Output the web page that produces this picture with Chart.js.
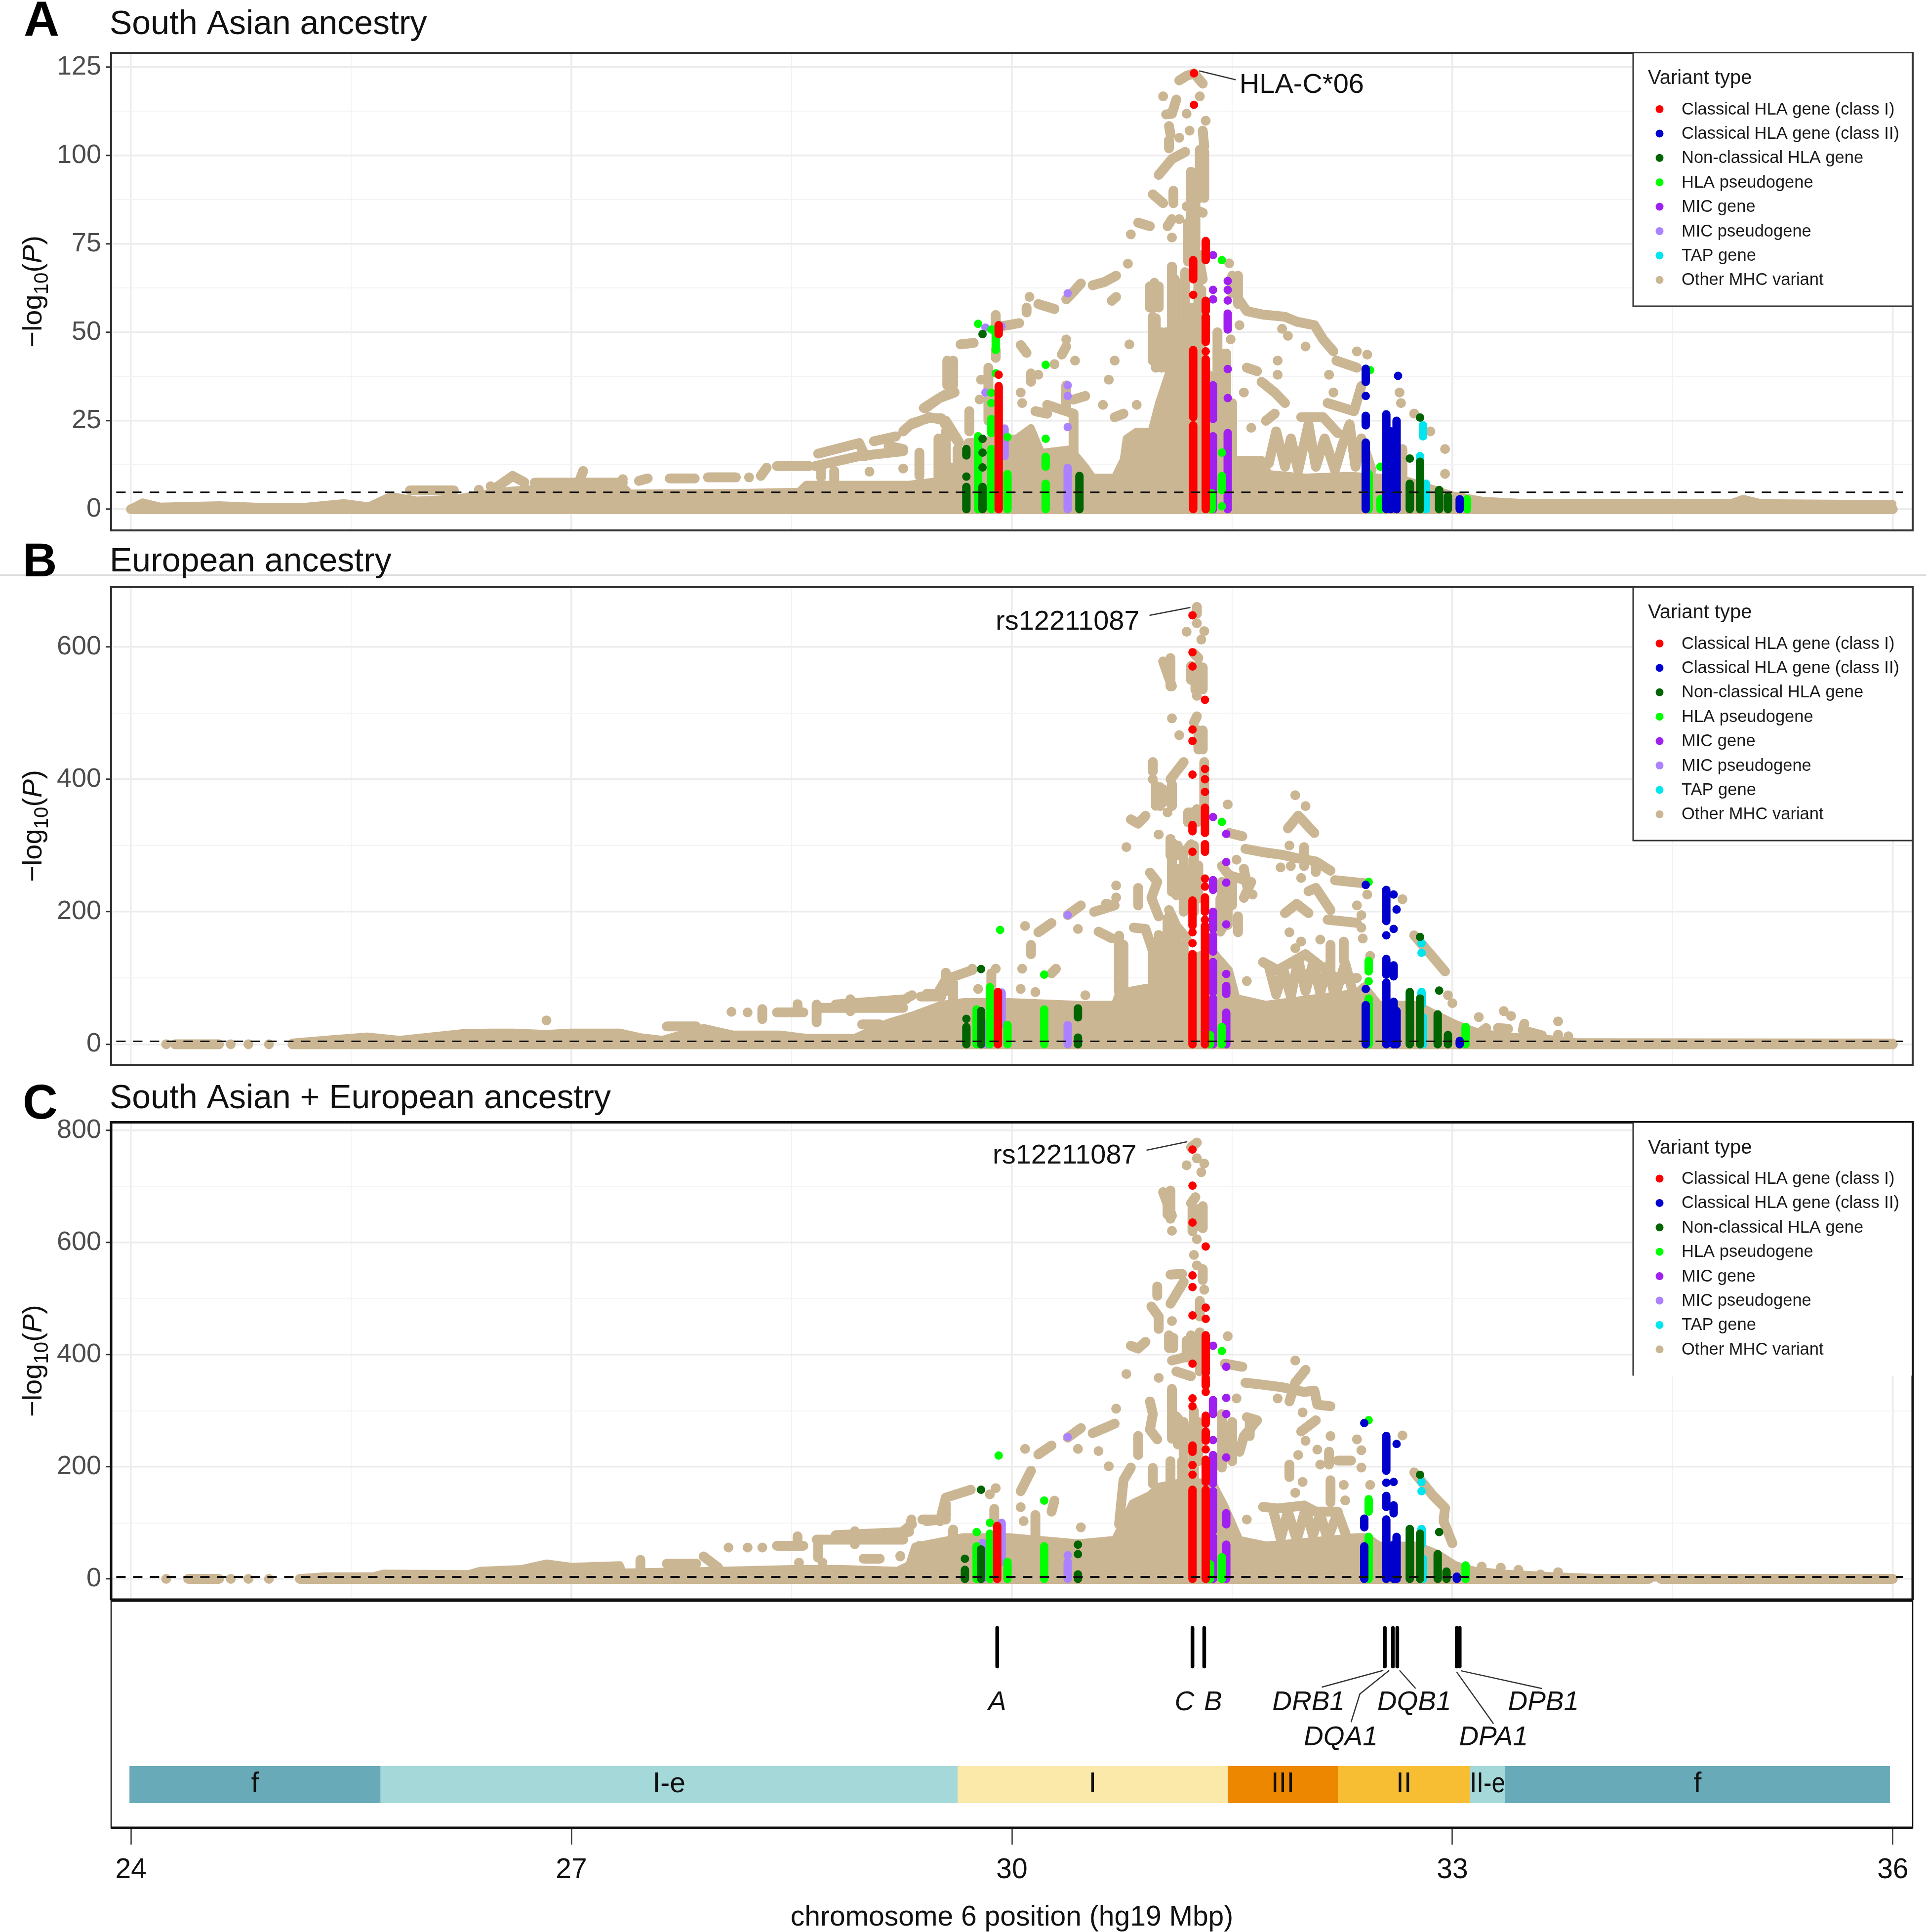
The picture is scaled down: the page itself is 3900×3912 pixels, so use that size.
<!DOCTYPE html>
<html>
<head>
<meta charset="utf-8">
<title>MHC association plots</title>
<script src="https://cdn.jsdelivr.net/npm/chart.js@4/dist/chart.umd.min.js"></script>
<style>
  html, body { margin: 0; padding: 0; background: #fff; }
  body { position: relative; width: 3900px; height: 3912px; overflow: hidden; }
  canvas { position: absolute; left: 0; }
  #rule { position: absolute; left: 0; top: 1163px; width: 3900px; height: 3px; background: #dcdcdc; }
</style>
</head>
<body>
<div id="rule"></div>
<canvas id="panel-a" width="3900" height="1090" style="top:0"></canvas>
<canvas id="panel-b" width="3900" height="1090" style="top:1090px"></canvas>
<canvas id="panel-c" width="3900" height="1060" style="top:2180px"></canvas>
<canvas id="panel-genes" width="3900" height="672" style="top:3240px"></canvas>
<script>
// All values: position in Mbp, -log10(P).
// null breaks a run; a pair between two nulls is one lone variant.
const xMajor = [24, 27, 30, 33, 36];
const xMinor = [25.5, 28.5, 31.5, 34.5];

const legendTitle = "Variant type";
const legendLabels = ["Classical HLA gene (class I)", "Classical HLA gene (class II)", "Non-classical HLA gene", "HLA pseudogene", "MIC gene", "MIC pseudogene", "TAP gene", "Other MHC variant"];

// Panel A
const aYMajor = [0, 25, 50, 75, 100, 125];
const aYMinor = [12.5, 37.5, 62.5, 87.5, 112.5];
const aThreshold = [[23.9, 4.8], [36.07, 4.8]];
const aLeader = [[31.276, 123.9], [31.524, 121.4]];
const aClassI = [[29.91, 0], [29.91, 34.8], null, [29.91, 38], null, [29.91, 49.5], [29.91, 52], null,
  [31.235, 0], [31.235, 23.7], null, [31.235, 26], [31.235, 40], null, [31.235, 40], [31.235, 45], null, [31.235, 60.6], null, [31.235, 65], [31.235, 70.4], null, [31.24, 114.3], null, [31.24, 123.2], null,
  [31.32, 0], [31.32, 42.4], null, [31.32, 44.6], null, [31.32, 47.3], [31.32, 54.4], null, [31.32, 56], [31.32, 58.9], null, [31.32, 70.4], [31.32, 75.8]];
const aClassII = [[32.41, 0], [32.41, 18.8], null, [32.41, 23.7], [32.41, 26.4], null, [32.41, 32], null, [32.41, 36], [32.41, 39.7], null,
  [32.55, 0], [32.55, 26.8], null, [32.58, 0], [32.58, 22], null, [32.62, 0], [32.62, 25], null, [32.63, 37.7], null, [33.05, 0], [33.05, 2.8]];
const aNonClassical = [[29.69, 0], [29.69, 6.3], null, [29.69, 9.2], null, [29.69, 15.2], [29.69, 17], null,
  [29.8, 0], [29.8, 6.3], null, [29.8, 11.8], null, [29.8, 16], null, [29.8, 19.9], null, [29.8, 49.5], null,
  [30.46, 0], [30.46, 9.4], null, [32.71, 0], [32.71, 7.2], null, [32.71, 14.3], null, [32.78, 0], [32.78, 13.4], null, [32.78, 25.9], null,
  [32.91, 0], [32.91, 5.4], null, [32.97, 0], [32.97, 3.6]];
const aPseudogene = [[29.77, 0], [29.77, 20.6], null, [29.77, 52.4], null, [29.86, 0], [29.86, 17], null, [29.86, 21.5], [29.86, 25.5], null, [29.86, 30], null, [29.86, 32.9], null, [29.86, 50.8], null,
  [29.89, 38.4], null, [29.89, 45], [29.89, 50.8], null, [29.97, 0], [29.97, 9.9], null, [29.97, 20.4], null,
  [30.23, 0], [30.23, 7.2], null, [30.23, 12], [30.23, 14.8], null, [30.23, 19.9], null, [30.23, 40.8], null,
  [31.36, 0], [31.36, 4.5], null, [31.43, 0.8], null, [31.43, 5.4], [31.43, 9.4], null, [31.43, 16], null, [31.43, 70.4], null,
  [32.43, 0], [32.43, 10], null, [32.44, 39.3], null, [32.51, 0], [32.51, 2.8], null, [32.51, 12], null, [33.1, 0], [33.1, 2.8]];
const aMic = [[31.37, 0], [31.37, 20.6], null, [31.37, 25.5], [31.37, 35], null, [31.37, 59.3], null, [31.37, 62], null, [31.37, 71.8], null,
  [31.47, 0], [31.47, 21.5], null, [31.47, 31.4], null, [31.47, 39.6], null, [31.47, 50.8], [31.47, 55.3], null, [31.47, 59], null, [31.47, 62], null, [31.47, 64.5]];
const aMicPseudogene = [[30.38, 0], [30.38, 11.7], null, [30.38, 23.2], null, [30.38, 32], null, [30.38, 35], null, [30.38, 61], null,
  [29.82, 33], null, [29.82, 51.3], null, [29.95, 15], [29.95, 22.8], null, [29.93, 51.7]];
const aTap = [[32.82, 0], [32.82, 7.2], null, [32.78, 8], [32.78, 15], null, [32.8, 20.6], [32.8, 23.7]];
const aOtherMass = [[24, 0.3], [24.08, 2], [24.2, 0.8], [24.6, 1.2], [24.9, 0.7], [25.2, 0.8], [25.45, 1.8], [25.62, 0.9], [25.77, 3.8], [25.95, 2.5], [26.2, 3], [26.5, 5], [26.95, 6.5], [27.35, 6.5], [27.4, 4.5], [28.2, 4.7], [28.55, 5], [28.6, 7], [29, 7], [29.3, 7], [29.5, 8], [29.65, 9], [29.7, 19], [29.95, 20], [30.03, 20], [30.13, 23], [30.2, 16], [30.4, 17], [30.5, 12], [30.55, 9], [30.7, 9], [30.76, 14], [30.78, 20], [30.85, 22], [30.95, 22], [31, 30], [31.08, 40], [31.2, 42], [31.35, 38], [31.45, 20], [31.5, 14], [31.7, 14], [31.75, 10], [32, 9], [32.3, 9.5], [32.5, 9], [32.7, 8], [32.85, 6], [33, 4], [33.2, 2.5], [33.5, 1.8], [34.9, 1.8], [34.98, 3], [35.1, 1.8], [36, 1.5]];
const aOtherRidges = [[24, 0], [36, 0], null,
  [25.9, 5.3], [26.2, 5.3], null, [26.37, 5.5], null, [26.45, 6.5], null, [26.49, 6.2], [26.6, 9.4], [26.68, 7.6], null, [26.75, 7.5], [27.35, 7.5], null, [27.08, 10.8], [27.05, 7.5], null, [27.35, 8.5], null,
  [27.46, 8], [27.52, 8.7], null, [27.67, 8.7], [27.84, 8.7], null, [27.93, 9], [28.12, 9], null, [28.21, 9], null, [28.29, 9.4], [28.33, 11.7], null, [28.4, 12.2], [28.62, 12.2], null,
  [28.66, 12.2], [28.96, 15], [29.26, 16.4], null, [28.68, 15.7], [28.96, 18.7], [29, 15], null, [29.06, 19.2], [29.21, 20.6], null, [29.26, 22], [29.32, 24.3], [29.43, 25.7], [29.52, 25.7], [29.54, 24.3], [29.64, 18.7], null,
  [29.41, 28.5], [29.52, 31.8], [29.6, 33.6], null, [29.56, 35], [29.56, 42], null, [29.6, 35], [29.6, 42], null, [28.7, 11], [28.7, 9], null, [28.79, 10.8], [28.79, 6], null, [29.03, 10.6], null, [29.26, 11.5], null, [29.37, 16], [29.37, 9.4], null, [29.52, 18.7], [29.52, 12.7], [29.6, 11.5], [29.6, 8], null,
  [29.16, 17.9], [29.26, 17], null, [29.37, 15], [29.37, 10.8], null, [29.55, 22], [29.55, 9], null, [29.63, 17], [29.63, 9], null,
  [31.14, 121.2], [31.19, 122.5], [31.24, 123.2], [31.3, 120.3], null, [31.03, 116.7], null, [31.12, 115.8], [31.09, 111.8], [31.05, 111.6], null, [31.19, 111.8], null, [31.28, 116.7], null, [31.32, 109.8], null, [31.07, 108.3], [31.08, 106], null, [31.21, 107], null, [31.14, 105], null, [31.07, 104.3], [31.07, 102], null, [31.3, 107], [31.31, 102.5], null,
  [31.18, 101], [31.09, 99], [31, 94.5], null, [31.28, 101.6], [31.28, 88], null, [31.31, 101], [31.31, 88], null, [31.22, 95.4], [31.22, 72], null, [31.25, 92], [31.25, 74], null, [31.3, 91], null, [30.96, 89], [31.03, 86.5], null, [31.1, 90], [31.1, 86.5], null, [31.19, 85.6], [31.3, 83.8], null,
  [30.86, 81], [30.94, 80], null, [30.81, 77.7], null, [31.09, 82], [31.06, 80], null, [31.14, 82], null, [31.2, 81], [31.2, 70], null, [31.27, 72], [31.3, 65], null, [31.09, 76.8], null, [30.79, 69.4], null, [30.71, 66], [30.63, 64.2], [30.55, 63.3], null, [30.47, 63.8], [30.42, 61.5], [30.37, 59.3], null, [30.71, 60], [30.68, 58.9], null,
  [30.29, 56.6], [30.18, 58], null, [30.12, 60], null, [30.1, 57], [30.1, 55.6], null, [30.05, 52.6], [29.93, 51.7], null, [29.89, 54.9], [29.89, 52], null, [30.37, 48], null, [30.8, 46.6], null, [30.06, 46.4], [30.1, 44.2], null, [30.34, 43.7], [30.37, 46], null, [30.43, 42], null, [30.29, 41], null, [30.7, 42], null,
  [29.74, 47], [29.65, 46.6], null, [29.89, 42.8], [29.89, 45], null, [29.61, 33], [29.5, 31.3], [29.4, 28.6], null, [30.13, 38.4], [30.13, 36], null, [30.18, 38], null, [30.06, 33], null, [30.07, 30], null, [30.37, 35], [30.37, 29], null, [30.5, 32], [30.42, 31], null, [30.62, 29.5], null, [30.66, 36.6], null, [30.85, 29.5], null,
  [30.24, 29.5], [30.42, 27], [30.42, 12], null, [30.16, 27.7], [30.24, 27], null, [30.7, 26], [30.76, 27], null, [29.78, 31], null, [29.71, 27.7], [29.71, 22], null, [29.79, 36.6], null, [29.84, 40], [29.84, 25], null, [29.89, 32], [29.89, 22], null,
  [29.32, 24], [29.44, 26], [29.55, 25], [29.64, 19], null, [29.5, 20], [29.5, 8], null,
  [30.94, 63], [30.94, 57], null, [30.97, 64], [30.97, 57], null, [31, 63], [31, 57], null, [30.96, 54.4], [30.96, 42], null, [30.98, 54], [30.98, 40], null, [31.02, 50], [31.02, 40], null, [31.09, 68.6], [31.09, 40], null, [31.11, 65], [31.11, 40], null, [31.18, 67], [31.18, 45], null, [31.22, 57], [31.22, 35], null, [31.15, 50], [31.15, 35], null, [31.05, 50], [31.05, 40], null, [31.27, 68], [31.27, 30], null, [31.29, 62], [31.29, 40], null,
  [31.4, 50], [31.4, 30], null, [31.43, 44], [31.43, 25], null, [31.46, 44], [31.46, 20], null, [31.5, 30], [31.5, 15], null, [31.5, 66], [31.5, 61], null, [31.54, 66], [31.54, 58], null, [31.48, 69.5], null, [31.55, 59], [31.6, 56], [31.71, 55], [31.86, 54.4], [31.94, 53], [32.06, 52], [32.12, 48], [32.19, 44.6], null, [31.55, 52], null, [31.49, 48], null, [31.41, 44], [31.41, 38], null,
  [31.88, 49], null, [31.84, 51], null, [32, 46], null, [32.21, 42], [32.35, 40], null, [32.35, 44.6], null, [32.42, 43.7], null, [32.16, 38], null, [31.81, 42], null, [31.81, 38], null, [31.6, 40], [31.67, 39], null, [31.7, 36], [31.79, 33], [31.86, 30], null, [31.58, 33], null, [32.19, 33], null, [32.64, 33], null, [32.65, 30], null,
  [32.15, 30], [32.33, 27.7], [32.38, 34.8], null, [31.97, 26], [32.12, 26], [32.22, 21.5], null, [31.73, 25], [31.79, 27], null, [31.63, 23], null, [31.75, 13], [31.8, 22], [31.86, 12], [31.9, 20], [31.95, 11], [32.02, 24], [32.07, 12], [32.13, 20], [32.2, 11], [32.25, 18], [32.3, 24], [32.34, 12], [32.38, 20], [32.45, 11], null, [32.74, 27], null, [32.85, 22], null, [32.95, 17], null, [32.95, 10], null, [32.66, 17], [32.66, 8]];

// Panel B
const bYMajor = [0, 200, 400, 600];
const bYMinor = [100, 300, 500];
const bThreshold = [[23.9, 4.5], [36.07, 4.5]];
const bLeader = [[30.937, 647.5], [31.216, 659.4]];
const bClassI = [[31.23, 0], [31.23, 136], null, [31.23, 152.5], null, [31.23, 169], null, [31.23, 179], [31.23, 217], null, [31.23, 290.5], null, [31.23, 321.5], [31.23, 331], null, [31.23, 407], null, [31.23, 458], null, [31.23, 475], null, [31.23, 570.4], null, [31.23, 591.8], null, [31.23, 647.5], null,
  [31.315, 0], [31.315, 179], null, [31.315, 188], null, [31.315, 200], [31.315, 221.5], null, [31.315, 238], null, [31.315, 250], null, [31.315, 290.5], [31.315, 302], null, [31.315, 319], [31.315, 357], null, [31.315, 381], null, [31.315, 400], null, [31.315, 415.7], null, [31.315, 520], null,
  [29.905, 0], [29.905, 78.7]];
const bClassII = [[32.41, 0], [32.41, 59], null, [32.41, 83.5], null, [32.41, 240.5], null, [32.55, 0], [32.55, 93], null, [32.55, 105], [32.55, 128.7], null, [32.55, 164.4], null, [32.55, 186], [32.55, 233], null,
  [32.6, 0], [32.6, 64], null, [32.6, 102.5], [32.6, 119], null, [32.6, 174], null, [32.62, 0], [32.62, 50], null, [32.62, 203.4], null, [32.6, 226], null, [33.05, 0], [33.05, 5]];
const bNonClassical = [[29.69, 0], [29.69, 26], null, [29.69, 38.3], null, [29.79, 0], [29.79, 50], null, [29.79, 113.4], null, [30.45, 0], [30.45, 10], null, [30.45, 40.6], [30.45, 54], null,
  [32.71, 0], [32.71, 78.7], null, [32.78, 0], [32.78, 69], null, [32.78, 162], null, [32.9, 0], [32.9, 45], null, [32.91, 81], null, [32.97, 0], [32.97, 14]];
const bPseudogene = [[29.76, 0], [29.76, 52.5], null, [29.85, 0], [29.85, 86], null, [29.97, 0], [29.97, 29], null, [29.92, 172.5], null, [30.22, 0], [30.22, 52.5], null, [30.22, 105], null,
  [31.35, 0], [31.35, 14], null, [31.43, 0], [31.43, 26], null, [31.43, 335.7], null, [32.43, 0], [32.43, 69], null, [32.43, 95], null, [32.43, 110], [32.43, 126], null, [32.43, 245], null, [33.09, 0], [33.09, 26]];
const bMic = [[31.37, 0], [31.37, 69], null, [31.37, 78.7], [31.37, 124], null, [31.37, 140], [31.37, 164], null, [31.37, 174], [31.37, 200], null, [31.37, 233], [31.37, 247.6], null, [31.37, 343], null,
  [31.46, 0], [31.46, 47.7], null, [31.46, 76], [31.46, 88], null, [31.46, 106], null, [31.46, 181], null, [31.46, 244], null, [31.46, 275], null, [31.46, 317.6]];
const bMicPseudogene = [[30.38, 0], [30.38, 29], null, [30.38, 195], null, [29.93, 31], [29.93, 78], null, [29.82, 0], [29.82, 31]];
const bTap = [[32.79, 138], null, [32.79, 152.5], null, [32.79, 59.7], [32.79, 78.7], null, [32.8, 0], [32.8, 40.6]];
const bOtherMass = [[25.1, 0], [25.1, 3], [25.37, 8], [25.61, 12], [25.83, 7], [26.25, 17], [26.45, 18], [26.6, 18], [26.83, 16], [27, 18], [27.33, 18], [27.47, 11], [27.62, 7], [27.9, 25], [28.1, 15], [28.42, 15], [28.6, 10], [28.93, 10], [29.16, 33], [29.34, 45], [29.52, 60], [29.67, 64], [29.98, 64], [30.45, 60], [30.7, 60], [30.73, 78], [30.9, 85], [30.96, 85], [31, 100], [31.1, 120], [31.2, 130], [31.37, 140], [31.48, 112], [31.53, 70], [31.73, 60], [32.35, 78], [32.4, 88], [32.5, 60], [32.76, 60], [32.89, 45], [33.02, 31], [33.15, 20], [33.35, 12], [33.63, 9], [33.85, 3.4], [36, 3]];
const bOtherRidges = [[24.24, 0], null, [24.3, 0], [24.6, 0], null, [24.68, 0], null, [24.8, 0], null, [24.94, 0], null, [25.1, 0], [36, 0], null,
  [26.83, 36], null, [27.65, 27], [27.85, 27], null, [28.09, 49], null, [28.2, 48], null, [28.3, 53], [28.3, 38], null, [28.4, 48], [28.58, 48], null, [28.54, 60.6], [28.54, 48], null, [28.67, 55], [29.26, 55], null, [28.67, 60], [28.67, 33], null, [28.9, 68], [28.9, 50], null, [28.8, 60], [29.28, 68], null, [29.3, 72], null, [29.38, 72], [29.52, 72], null, [29.55, 80], [29.55, 108], null, [29.6, 60], [29.6, 100], null, [28.98, 30], [29.1, 30], null, [29.37, 46], [29.37, 23], null, [29.55, 55], [29.66, 60], null, [29.73, 112], [29.55, 97.7], [29.5, 78.7], null,
  [31.26, 660.4], [31.26, 650], null, [31.26, 635.6], null, [31.19, 622.8], null, [31.31, 623.7], null, [31.29, 610.9], null, [31.24, 590], [31.27, 583], null, [31.08, 583], [31.08, 540.4], null, [31.03, 578], [31.09, 540.4], null, [31.22, 571], [31.22, 550], null, [31.25, 570], [31.25, 535], null, [31.28, 570], [31.28, 535], null, [31.3, 569], [31.3, 535.7], null, [31.27, 560], [31.27, 540], null, [31.26, 526], null, [31.09, 492], null, [31.26, 495], [31.24, 485.7], null, [31.14, 466.6], null, [31.3, 473.8], [31.3, 445], null, [31.27, 474], [31.27, 445], null,
  [30.96, 426], [30.96, 412], null, [31.17, 426], [31.08, 400], null, [30.96, 400], null, [31.01, 388], [31.01, 359.5], null, [30.98, 390], [30.98, 360], null, [31.03, 385], [31.03, 365], null, [31.09, 393], [31.09, 359.5], null, [31.31, 426], [31.31, 340], null, [31.47, 362], null, [31.06, 350], null, [31.22, 350], [31.27, 340], null, [31.2, 350], [31.2, 335], null, [31.26, 355], [31.26, 335], null, [30.81, 339.5], [30.86, 333], [30.91, 345], null, [31, 316.7], null, [30.78, 297.6], null,
  [31.09, 305], [31.17, 288], [31.22, 302], null, [31.08, 310], [31.08, 285], null, [31.13, 300], [31.13, 285], null, [31.09, 290], [31.09, 230], null, [31.12, 265], [31.12, 225], null, [31.18, 265], [31.18, 210], null, [31.27, 270], [31.27, 220], null, [31.17, 280], [31.17, 200], null, [31.24, 300], [31.24, 200], null, [31.48, 319], [31.57, 314], null, [31.59, 295], [31.71, 290], [31.84, 286], [31.94, 281], [32.07, 276], [32.17, 262], null,
  [31.93, 376], null, [32, 359.5], null, [31.95, 345], [31.88, 326], null, [31.95, 345], [32.06, 319], null, [31.89, 300], null, [31.99, 297.6], [31.99, 269], null, [31.83, 267], null, [31.9, 269], null, [32.07, 276], [32.07, 260], null, [32.2, 247.7], [32.4, 243], null, [31.97, 251], null, [32.02, 231], [32.07, 236], [32.17, 202.5], null, [32.35, 209.6], null, [32.42, 226], null, [31.86, 198], [31.94, 212], [32.02, 198], null,
  [32.38, 195], null, [32.15, 188], [32.35, 183.4], null, [32.38, 176], null, [32.39, 159.6], null, [32.44, 133.4], null, [32.66, 219], null, [31.89, 169], null, [31.97, 155], null, [32.1, 158], null, [31.93, 145], null, [32.74, 164.4], [32.87, 131], [32.95, 110], null, [32.97, 74], null, [33, 62], null, [32.26, 155], [32.26, 126], null, [32.17, 150], [32.17, 110], null,
  [31.71, 124], [31.81, 112], [32, 135.8], [32.22, 97.7], [32.35, 100], null, [31.6, 95.4], null, [31.75, 118], [31.8, 75], [31.85, 112], [31.9, 72], [31.95, 128], [32, 80], [32.05, 122], [32.1, 78], [32.15, 118], [32.2, 72], [32.27, 122], [32.32, 80], null,
  [31.43, 269], [31.48, 255], [31.63, 245], [31.58, 221], null, [31.43, 245], [31.43, 174], null, [31.42, 220], [31.42, 170], null, [31.47, 215], [31.47, 180], null, [31.54, 193], [31.54, 169], null, [31.53, 278.6], null, [31.64, 226], null, [31.5, 245], [31.5, 210], null, [31.58, 265], [31.6, 240], null,
  [30.94, 259], [30.99, 245], [30.95, 221], [31, 193], null, [30.86, 236], [30.86, 209.6], null, [30.71, 239.6], null, [30.71, 221.5], null, [30.64, 212], [30.7, 209.6], [30.56, 200], null, [30.47, 209.6], [30.38, 195], null, [30.27, 183], [30.18, 169], null, [30.09, 178.6], null, [30.45, 174], null, [30.13, 150], [30.13, 135.8], null, [30.07, 114], null,
  [30.59, 170], [30.68, 160], null, [30.73, 164], [30.73, 78.7], null, [30.76, 150], [30.76, 70], null, [30.83, 176], [30.91, 174], [30.96, 140.6], [30.96, 85], null, [31, 165], [31, 90], null, [31.06, 190], [31.06, 100], null, [31.12, 175], [31.12, 100], null, [31.17, 150], [31.17, 100], null, [31.07, 202.5], [31.12, 178.6], [31.19, 159.6], null,
  [30.27, 107], [30.3, 114], null, [30.06, 83.5], null, [30.16, 78.7], null, [30.5, 74], null, [29.89, 114], null, [29.73, 114], null, [29.86, 107], [29.86, 78.7], null, [29.77, 83.5], null, [29.32, 74], [29.21, 59.7], null, [29.42, 76], [29.51, 76], null, [29.25, 31], null,
  [33.18, 41], null, [33.35, 50], null, [33.4, 42.7], null, [33.49, 31], [33.48, 21], [33.61, 13.4], null, [33.72, 34.5], null, [33.72, 14.6], null, [33.79, 12], null, [33.23, 24.5], [33.18, 16], null, [33.31, 24.5], [33.38, 23.3], null];

// Panel C
const cYMajor = [0, 200, 400, 600, 800];
const cYMinor = [100, 300, 500, 700];
const cThreshold = [[23.9, 3.5], [36.07, 3.5]];
const cLeader = [[30.917, 764.8], [31.195, 780]];
const cClassI = [[31.23, 0], [31.23, 159], null, [31.23, 186], null, [31.23, 203], null, [31.23, 226.7], [31.23, 238], null, [31.23, 308], null, [31.23, 322], null, [31.23, 384], null, [31.23, 470], null, [31.23, 520.6], null, [31.23, 541.4], null, [31.23, 635.8], null, [31.23, 701.5], null, [31.23, 766], null,
  [31.32, 0], [31.32, 159], null, [31.32, 173], [31.32, 212.6], null, [31.32, 231], null, [31.32, 246.4], [31.32, 263], null, [31.32, 277], [31.32, 291], null, [31.32, 333.5], null, [31.32, 344.7], [31.32, 358.7], null, [31.32, 367], [31.32, 434.6], null, [31.32, 464], null, [31.32, 484], null, [31.32, 593], null,
  [29.9, 0], [29.9, 94.6]];
const cClassII = [[32.4, 0], [32.4, 58], null, [32.4, 92], [32.4, 107.6], null, [32.4, 278], null, [32.55, 0], [32.55, 106], null, [32.55, 128.4], [32.55, 148], null, [32.55, 171.6], null, [32.55, 193], [32.55, 255], null,
  [32.6, 0], [32.6, 61], null, [32.6, 117], [32.6, 131], null, [32.6, 173], null, [32.62, 240.7], null, [32.62, 0], [32.62, 75], null, [33.03, 0], [33.03, 4]];
const cNonClassical = [[29.68, 0], [29.68, 16], null, [29.68, 36], null, [29.79, 0], [29.79, 52.5], null, [29.79, 159], null, [30.45, 0], [30.45, 8], null, [30.45, 44], null, [30.45, 61], null,
  [32.71, 0], [32.71, 89], null, [32.78, 0], [32.78, 80.6], null, [32.78, 185.7], null, [32.9, 0], [32.9, 44], null, [32.91, 83.4], null, [32.96, 0], [32.96, 13]];
const cPseudogene = [[29.76, 0], [29.76, 58], null, [29.76, 83.4], null, [29.85, 0], [29.85, 80.6], null, [29.85, 100], null, [29.97, 0], [29.97, 30], null, [29.91, 220], null, [30.22, 0], [30.22, 58], null, [30.22, 139.6], null,
  [31.35, 0], [31.35, 26], null, [31.43, 0], [31.43, 38.5], null, [31.43, 406.5], null, [32.43, 0], [32.43, 75], null, [32.43, 120], [32.43, 142], null, [32.43, 283], null, [33.09, 0], [33.09, 24]];
const cMic = [[31.37, 0], [31.37, 75], null, [31.37, 86], [31.37, 156.5], null, [31.37, 170.5], [31.37, 221], null, [31.37, 247.5], null, [31.37, 294], [31.37, 319], null, [31.37, 416], null,
  [31.46, 0], [31.46, 61], null, [31.46, 97.4], [31.46, 117], null, [31.46, 216.6], null, [31.46, 294], null, [31.46, 323], null, [31.46, 378.4]];
const cMicPseudogene = [[30.38, 0], [30.38, 30], null, [30.38, 42], null, [30.38, 253], null, [29.8, 0], [29.8, 64], null, [29.93, 30], [29.93, 100]];
const cTap = [[32.79, 156.5], null, [32.79, 173], null, [32.79, 61], [32.79, 89], null, [32.8, 0], [32.8, 36]];
const cOtherMass = [[25.15, 0], [25.15, 2], [25.32, 5], [25.65, 5], [25.72, 10], [26.3, 9], [26.38, 15], [26.66, 18], [26.83, 28], [27, 22], [27.33, 25], [27.35, 12], [28.02, 15], [28.5, 18], [28.85, 18], [29.22, 15], [29.3, 25], [29.34, 58], [29.67, 75], [29.98, 75], [30.45, 64], [30.7, 70], [30.75, 95], [30.82, 135], [30.94, 150], [31, 165], [31.2, 175], [31.37, 170], [31.45, 130], [31.5, 100], [31.55, 70], [31.73, 60], [32.35, 75], [32.42, 75], [32.5, 60], [32.76, 60], [32.9, 45], [33.02, 25], [33.15, 15], [33.35, 10], [33.7, 5], [34, 2], [36, 1]];
const cOtherRidges = [[24.24, 0], null, [24.39, 0], [24.6, 0], null, [24.68, 0], null, [24.8, 0], null, [24.94, 0], null, [25.15, 0], [34.34, 0], null, [34.42, 0], [36, 0], null,
  [27.47, 34], [27.47, 21], null, [27.65, 27], [27.85, 27], null, [27.9, 40], [28, 20], null, [28.07, 56], null, [28.2, 56], null, [28.3, 56], null, [28.4, 59], [28.58, 59], null, [28.54, 76], [28.54, 59], null, [28.67, 70], [29.26, 70], null, [28.93, 85], [28.93, 62], null, [28.8, 78], [29.3, 84], null, [29.316, 106], [29.3, 90], null, [29.39, 106], [29.55, 106], null, [29.55, 112], [29.55, 135], null,
  [28.68, 62], [28.68, 38], null, [28.99, 36], [29.1, 36], null, [29.24, 40], null, [28.55, 29], null, [28.71, 29], null, [29.37, 59], [29.37, 29], null, [29.6, 88], [29.6, 59], null, [29.68, 71], null,
  [31.26, 778.5], [31.22, 770], null, [31.26, 750.4], null, [31.19, 738], null, [31.31, 741], null, [31.29, 725.7], null, [31.08, 693], [31.08, 642.5], null, [31.03, 690], [31.09, 648], null, [31.06, 680], [31.06, 650], null, [31.09, 621], null, [31.25, 681], [31.22, 670], null, [31.3, 665], [31.3, 625.7], null, [31.27, 660], [31.27, 630], null, [31.23, 620], [31.23, 660], null, [31.26, 606], null, [31.24, 578], null, [31.26, 559.4], null, [31.3, 552.6], [31.3, 533], null,
  [31.08, 543], [31.16, 544], null, [30.99, 521.7], [30.99, 505], null, [31.17, 530], [31.08, 491], null, [30.95, 486], [31, 468], [31, 446], null, [31.31, 516], null, [31.28, 496], [31.28, 468], null, [31.09, 460], null, [31.07, 434.6], [31.07, 412], null, [31.1, 430], [31.1, 412], null, [31.47, 433], null, [30.81, 416], [30.86, 411], [30.91, 423], null, [31.22, 434.6], [31.22, 395], null, [31.19, 425], [31.19, 395], null, [31.28, 440], [31.28, 370], null,
  [31.09, 389.6], [31.17, 395], null, [31.12, 370], [31.22, 361.6], null, [30.78, 365.5], null, [31, 358.7], null, [31.45, 384], [31.57, 378.4], null, [31.59, 350], [31.71, 346.4], [31.84, 342], [31.99, 333.5], [32.06, 336], [32.08, 311], [32.17, 308], null, [31.93, 389.6], null, [32, 373], [31.93, 350], [31.89, 316.6], null, [31.81, 322], null, [31.09, 339], [31.09, 250], null,
  [30.94, 316.6], [30.96, 294], [30.94, 266], [30.99, 249], null, [31.12, 290], [31.22, 255], null, [31.13, 280], [31.13, 240], null, [31.17, 280], [31.17, 180], null, [31.24, 300], [31.24, 170], null, [31.27, 280], [31.27, 210], null, [31.53, 322], null, [31.6, 288.5], [31.67, 283], [31.58, 254.8], [31.55, 226.7], null, [31.43, 294], [31.43, 198.6], null, [31.5, 280], [31.5, 210], null, [31.62, 280], [31.62, 255], null,
  [31.98, 297], null, [32.07, 283], [31.97, 263], null, [32.17, 254.8], null, [32.35, 249], null, [32.38, 229.5], null, [32.66, 256], null, [30.71, 303.7], null, [30.7, 277], [30.63, 269], [30.55, 260], null, [30.47, 269], [30.38, 252], null, [30.27, 238], [30.18, 222], null, [30.09, 232], null, [30.45, 232], null, [30.59, 228], null, [30.86, 255], [30.86, 221], null,
  [32, 246.4], null, [32.08, 230.6], null, [32.16, 227], [32.16, 204], null, [32.22, 211], [32.31, 211], null, [32.38, 198.6], null, [31.89, 204], [31.89, 181.7], null, [31.95, 221], null, [32.1, 204], null, [30.66, 201], null, [30.81, 198.6], [30.76, 176], [30.73, 97.5], null, [30.13, 193], [30.06, 156.5], null, [30.96, 198], [30.96, 170], null, [31.08, 210], [31.08, 175], null, [31.16, 210], [31.16, 175], null,
  [31.98, 173], null, [31.93, 153.6], null, [32.26, 167.7], null, [32.17, 176], [32.17, 136.8], null, [32.44, 167.7], null, [32.74, 190], [32.87, 148], [32.95, 126.7], [32.94, 103], [33, 63.7], null, [31.71, 128.4], [31.81, 125.6], [31.99, 131], [32.07, 120], [32.22, 120], null, [32.27, 140], null, [31.78, 122], [31.83, 72], [31.88, 120], [31.94, 70], [32, 125], [32.05, 78], [32.1, 115], [32.15, 72], [32.22, 118], [32.28, 75], null,
  [29.89, 162], null, [29.72, 159], [29.55, 145], [29.51, 103], null, [29.85, 151], null, [30.06, 128], null, [30.29, 139.6], [30.27, 120], null, [30.16, 114], [30.16, 75], null, [30.08, 103], null, [30.47, 92], null, [29.32, 97.5], [29.21, 75], null, [29.42, 103], [29.51, 106], null, [29.88, 125], [29.88, 100], null, [29.24, 41], null, [31.6, 106], null,
  [33.2, 22], null, [33.33, 20], null, [33.45, 16], null, [33.72, 12], null, [33.6, 8]];

// Gene track below the panels
const geneX = [29.9, 31.23, 31.31, 32.54, 32.595, 32.625, 33.03, 33.05];
const geneNames = ["A", "C", "B", "DRB1", "DQB1", "DPB1", "DQA1", "DPA1"];
const geneNameX = [29.9, 31.175, 31.37, 32.02, 32.74, 33.62, 32.24, 33.28];
const geneNameRow = [55, 55, 55, 55, 55, 55, 39.6, 39.6];
const geneLeaders = [[32.53, 69.3], [32.11, 61.9], null, [32.57, 69.3], [32.37, 58.9], [32.31, 46.5], null, [32.64, 69.3], [32.75, 61.3], null, [33.03, 68.5], [33.28, 45.8], null, [33.06, 69.1], [33.61, 61.3]];
const bandNames = ["f", "I-e", "I", "III", "II", "II-e", "f"];
const bandStart = [23.99, 25.7, 29.63, 31.47, 32.22, 33.12, 33.36];
const bandEnd = [25.7, 29.63, 31.47, 32.22, 33.12, 33.36, 35.98];
const bandColors = ["#69aab9", "#a5d8d8", "#fbe9a9", "#ee8700", "#f8be33", "#a5d8d8", "#69aab9"];

const FONT = '"Liberation Sans", Arial, sans-serif';
const seriesColors = ["#ff0000", "#0000cd", "#006400", "#00ff00", "#a020f0", "#ab82ff", "#00e5ee", "#cbb694"];
const TAN = seriesColors[7];
const DOT = 8;

function toPoints(list) {
  return list.map((p) => (p ? { x: p[0], y: p[1] } : { x: null, y: null }));
}

function dotSeries(list, color, lineWidth) {
  return {
    data: toPoints(list),
    showLine: true,
    borderColor: color,
    backgroundColor: color,
    borderWidth: lineWidth || 17,
    borderCapStyle: "round",
    borderJoinStyle: "round",
    pointRadius: DOT,
    pointBorderWidth: 0,
    pointBackgroundColor: color,
    spanGaps: false,
    tension: 0,
  };
}

// draws the plot frame, panel letter, title, y title, legend and peak label
const panelDecor = {
  id: "panelDecor",
  afterDatasetsDraw(chart, args, o) {
    const { ctx, chartArea: a } = chart;
    const top = o.canvasTop;
    ctx.save();
    ctx.strokeStyle = o.frameColor;
    ctx.lineWidth = o.frameWidth;
    ctx.strokeRect(a.left, a.top, a.right - a.left, a.bottom - a.top);

    // legend box
    const lx = 3307, ly = a.top + 1, lw = a.right - lx, lh = 512;
    ctx.fillStyle = "#fff";
    ctx.fillRect(lx, ly, lw - 2, lh);
    ctx.strokeStyle = "#333";
    ctx.lineWidth = 3;
    ctx.beginPath();
    ctx.moveTo(lx, ly);
    ctx.lineTo(lx, ly + lh);
    if (o.legendBottom) ctx.lineTo(a.right, ly + lh);
    ctx.stroke();
    ctx.textBaseline = "middle";
    ctx.textAlign = "left";
    ctx.fillStyle = "#1a1a1a";
    ctx.font = `40px ${FONT}`;
    ctx.fillText(legendTitle, 3337, ly + 51);
    ctx.font = `34.5px ${FONT}`;
    legendLabels.forEach((label, i) => {
      const y = ly + 113 + i * 49.4;
      ctx.fillStyle = seriesColors[i];
      ctx.beginPath();
      ctx.arc(3360.5, y, 8, 0, Math.PI * 2);
      ctx.fill();
      ctx.fillStyle = "#1a1a1a";
      ctx.fillText(label, 3405, y + 1);
    });

    // letter and title
    ctx.textBaseline = "alphabetic";
    ctx.fillStyle = "#000";
    ctx.font = `bold ${o.letterSize}px ${FONT}`;
    ctx.fillText(o.letter, o.letterX, o.letterY - top);
    ctx.font = `68px ${FONT}`;
    ctx.fillStyle = "#111";
    ctx.fillText(o.title, 222, o.titleY - top);

    // -log10(P), rotated
    ctx.translate(66, (a.top + a.bottom) / 2);
    ctx.rotate(-Math.PI / 2);
    ctx.fillStyle = "#111";
    const parts = [["−log", `56px ${FONT}`, 0], ["10", `40px ${FONT}`, 13], ["(", `56px ${FONT}`, 0], ["P", `italic 56px ${FONT}`, 0], [")", `56px ${FONT}`, 0]];
    let total = 0;
    parts.forEach((p) => { ctx.font = p[1]; total += ctx.measureText(p[0]).width; });
    let cx = -total / 2;
    parts.forEach((p) => {
      ctx.font = p[1];
      ctx.fillText(p[0], cx, 18 + p[2]);
      cx += ctx.measureText(p[0]).width;
    });
    ctx.restore();

    // peak label next to its leader
    const xs = chart.scales.x, ys = chart.scales.y;
    ctx.save();
    ctx.font = `56px ${FONT}`;
    ctx.fillStyle = "#111";
    ctx.textBaseline = "middle";
    ctx.textAlign = o.peakAlign;
    ctx.fillText(o.peakText, xs.getPixelForValue(o.peakX), ys.getPixelForValue(o.peakY));
    ctx.restore();
  },
};

function axisTicks(majors, minors) {
  return (scale) => {
    scale.ticks = majors.concat(minors).sort((p, q) => p - q).map((v) => ({ value: v }));
  };
}

function makePanel(id, s) {
  const isMajorY = (v) => s.yMajor.includes(v);
  const isMajorX = (v) => xMajor.includes(v);
  const ds = [
    { data: toPoints(s.threshold), showLine: true, borderColor: "#111", borderWidth: s.dashWidth, borderDash: [19, 15], pointRadius: 0 },
    dotSeries(s.leader, "#333", 2.5),
    dotSeries(s.classI, seriesColors[0]),
    dotSeries(s.classII, seriesColors[1]),
    dotSeries(s.nonClassical, seriesColors[2]),
    dotSeries(s.pseudogene, seriesColors[3]),
    dotSeries(s.mic, seriesColors[4]),
    dotSeries(s.micPseudogene, seriesColors[5]),
    dotSeries(s.tap, seriesColors[6]),
    dotSeries(s.ridges, TAN, 20),
    Object.assign(dotSeries(s.mass, TAN, 15), { fill: { value: 0 }, pointRadius: 0 }),
  ];
  Object.assign(ds[1], { pointRadius: 0, borderCapStyle: "butt" });
  return new Chart(document.getElementById(id), {
    type: "scatter",
    data: { datasets: ds },
    plugins: [panelDecor],
    options: {
      responsive: false,
      animation: false,
      devicePixelRatio: 1,
      layout: { autoPadding: false, padding: { left: 0, right: 27, top: s.plotTop - s.canvasTop, bottom: s.canvasBottom - s.plotBottom } },
      plugins: {
        legend: { display: false },
        title: { display: false },
        tooltip: { enabled: false },
        panelDecor: s,
      },
      scales: {
        x: {
          type: "linear",
          min: 23.865,
          max: 36.135,
          afterBuildTicks: axisTicks(xMajor, xMinor),
          afterFit: (scale) => { scale.height = 0; scale.paddingLeft = 0; scale.paddingRight = 0; },
          ticks: { display: false },
          border: { display: false },
          grid: {
            drawTicks: false,
            color: (c) => (isMajorX(c.tick.value) ? "#ececec" : "#f3f3f3"),
            lineWidth: (c) => (isMajorX(c.tick.value) ? 3.5 : 2),
          },
        },
        y: {
          type: "linear",
          min: s.yMin,
          max: s.yMax,
          afterBuildTicks: axisTicks(s.yMajor, s.yMinor),
          afterFit: (scale) => { scale.width = 225; scale.paddingTop = 0; scale.paddingBottom = 0; },
          border: { display: false },
          ticks: {
            autoSkip: false,
            padding: 9,
            color: "#4d4d4d",
            font: { family: FONT, size: 54 },
            callback: (v) => (isMajorY(v) ? String(v) : ""),
          },
          grid: {
            tickLength: 11,
            tickWidth: 3,
            tickColor: (c) => (isMajorY(c.tick.value) ? "#333" : "rgba(0,0,0,0)"),
            color: (c) => (isMajorY(c.tick.value) ? "#ececec" : "#f3f3f3"),
            lineWidth: (c) => (isMajorY(c.tick.value) ? 3.5 : 2),
          },
        },
      },
    },
  });
}

makePanel("panel-a", {
  canvasTop: 0, canvasBottom: 1090, plotTop: 107, plotBottom: 1074, yMin: -6, yMax: 129,
  yMajor: aYMajor, yMinor: aYMinor, threshold: aThreshold, leader: aLeader, dashWidth: 3,
  classI: aClassI, classII: aClassII, nonClassical: aNonClassical, pseudogene: aPseudogene, mic: aMic, micPseudogene: aMicPseudogene, tap: aTap, ridges: aOtherRidges, mass: aOtherMass,
  letter: "A", letterX: 48, letterY: 73, letterSize: 100, title: "South Asian ancestry", titleY: 69,
  frameColor: "#333", frameWidth: 4, legendBottom: true,
  peakText: "HLA-C*06", peakX: 31.55, peakY: 119.9, peakAlign: "left",
});
makePanel("panel-b", {
  canvasTop: 1090, canvasBottom: 2180, plotTop: 1189, plotBottom: 2156, yMin: -31, yMax: 690,
  yMajor: bYMajor, yMinor: bYMinor, threshold: bThreshold, leader: bLeader, dashWidth: 3,
  classI: bClassI, classII: bClassII, nonClassical: bNonClassical, pseudogene: bPseudogene, mic: bMic, micPseudogene: bMicPseudogene, tap: bTap, ridges: bOtherRidges, mass: bOtherMass,
  letter: "B", letterX: 46, letterY: 1167, letterSize: 96, title: "European ancestry", titleY: 1157,
  frameColor: "#333", frameWidth: 4, legendBottom: true,
  peakText: "rs12211087", peakX: 30.87, peakY: 637.5, peakAlign: "right",
});
makePanel("panel-c", {
  canvasTop: 2180, canvasBottom: 3240, plotTop: 2272.5, plotBottom: 3239, yMin: -37, yMax: 814.6,
  yMajor: cYMajor, yMinor: cYMinor, threshold: cThreshold, leader: cLeader, dashWidth: 4,
  classI: cClassI, classII: cClassII, nonClassical: cNonClassical, pseudogene: cPseudogene, mic: cMic, micPseudogene: cMicPseudogene, tap: cTap, ridges: cOtherRidges, mass: cOtherMass,
  letter: "C", letterX: 46, letterY: 2265, letterSize: 98, title: "South Asian + European ancestry", titleY: 2244,
  frameColor: "#111", frameWidth: 5, legendBottom: false,
  peakText: "rs12211087", peakX: 30.85, peakY: 755, peakAlign: "right",
});

// gene track: its y axis only places the rows
const trackDecor = {
  id: "trackDecor",
  afterDatasetsDraw(chart) {
    const { ctx, chartArea: a, scales } = chart;
    ctx.save();
    ctx.strokeStyle = "#111";
    ctx.lineWidth = 5;
    ctx.beginPath();
    ctx.moveTo(a.left, a.top);
    ctx.lineTo(a.right, a.top);
    ctx.moveTo(a.left, a.bottom);
    ctx.lineTo(a.right, a.bottom);
    ctx.stroke();
    ctx.lineWidth = 2.5;
    ctx.strokeRect(a.left, a.top, a.right - a.left, a.bottom - a.top);
    ctx.fillStyle = "#111";
    ctx.textAlign = "center";
    ctx.textBaseline = "middle";
    ctx.font = `italic 55px ${FONT}`;
    geneNames.forEach((name, i) => {
      ctx.fillText(name, scales.x.getPixelForValue(geneNameX[i]), scales.y.getPixelForValue(geneNameRow[i]));
    });
    ctx.font = `57px ${FONT}`;
    bandNames.forEach((name, i) => {
      const mid = (bandStart[i] + bandEnd[i]) / 2;
      const room = scales.x.getPixelForValue(bandEnd[i]) - scales.x.getPixelForValue(bandStart[i]);
      ctx.fillText(name, scales.x.getPixelForValue(mid), scales.y.getPixelForValue(19), room);
    });
    ctx.restore();
  },
};

function geneRuns() {
  const runs = [];
  geneX.forEach((x) => { runs.push([x, 71], [x, 88], null); });
  return runs;
}

const trackSets = [
  { data: toPoints(geneRuns()), showLine: true, borderColor: "#000", borderWidth: 7.5, borderCapStyle: "round", pointRadius: 0 },
  { data: toPoints(geneLeaders), showLine: true, borderColor: "#333", borderWidth: 2.5, pointRadius: 0 },
];
bandNames.forEach((name, i) => {
  trackSets.push({
    label: name,
    data: [{ x: bandStart[i], y: 19 }, { x: bandEnd[i], y: 19 }],
    showLine: true,
    borderColor: bandColors[i],
    borderWidth: 75,
    borderCapStyle: "butt",
    pointRadius: 0,
  });
});

new Chart(document.getElementById("panel-genes"), {
  type: "scatter",
  data: { datasets: trackSets },
  plugins: [trackDecor],
  options: {
    responsive: false,
    animation: false,
    devicePixelRatio: 1,
    layout: { autoPadding: false, padding: { left: 0, right: 27, top: 1, bottom: 0 } },
    plugins: { legend: { display: false }, tooltip: { enabled: false } },
    scales: {
      x: {
        type: "linear",
        min: 23.865,
        max: 36.135,
        afterBuildTicks: (scale) => { scale.ticks = xMajor.map((v) => ({ value: v })); },
        afterFit: (scale) => { scale.height = 211; scale.paddingLeft = 0; scale.paddingRight = 0; },
        border: { display: false },
        grid: { drawOnChartArea: false, tickLength: 34, tickColor: "#333", tickWidth: 2.5 },
        ticks: { color: "#111", padding: 18, font: { family: FONT, size: 57 }, maxRotation: 0, autoSkip: false },
        title: { display: true, text: "chromosome 6 position (hg19 Mbp)", color: "#111", font: { family: FONT, size: 57, lineHeight: 1 }, padding: 0 },
      },
      y: { type: "linear", display: false, min: 0, max: 100, afterFit: (scale) => { scale.width = 225; } },
    },
  },
});
</script>
</body>
</html>
